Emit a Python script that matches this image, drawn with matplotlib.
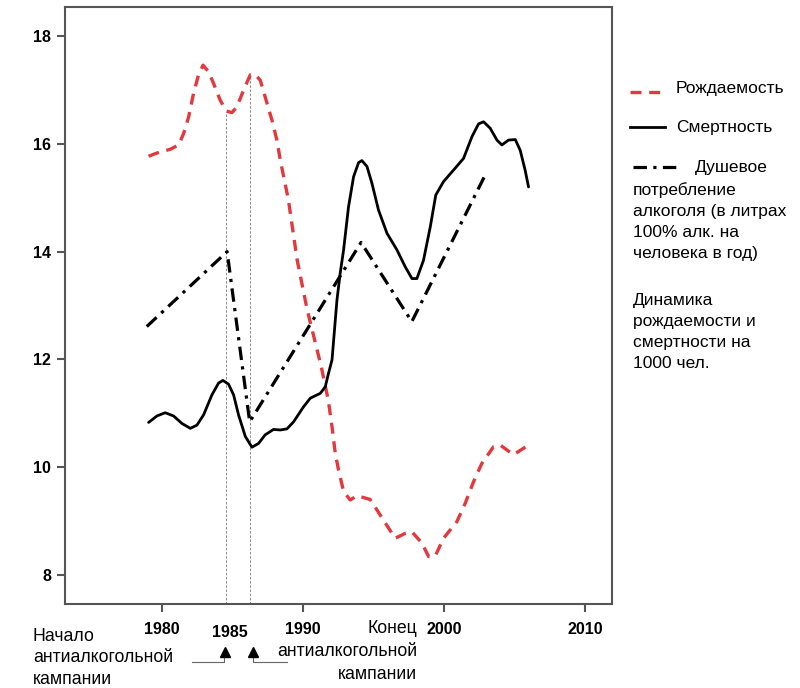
import matplotlib.pyplot as plt
from matplotlib.lines import Line2D

# Рождаемость (на 1000 чел.)
birth_years = [1979.03, 1979.62, 1980.57, 1981.16, 1981.51, 1981.87, 1982.22, 1982.57, 1982.89, 1983.28,
               1983.64, 1984.11, 1984.54, 1984.94, 1985.30, 1985.77, 1986.24, 1986.60, 1986.95, 1987.30,
               1987.78, 1988.13, 1988.37, 1988.94, 1989.57, 1990.28, 1991.28, 1991.77, 1992.04, 1992.27,
               1992.50, 1992.86, 1993.33, 1993.81, 1994.75, 1995.46, 1996.52, 1997.23, 1997.71, 1998.42,
               1998.89, 1999.36, 1999.95, 2000.90, 2001.49, 2002.08, 2002.67, 2003.50, 2003.97, 2004.91,
               2005.98]
birth_rate = [15.77, 15.83, 15.90, 15.98, 16.19, 16.50, 16.94, 17.28, 17.46, 17.34,
              17.12, 16.81, 16.61, 16.58, 16.69, 17.00, 17.28, 17.29, 17.18, 16.87,
              16.44, 16.07, 15.70, 14.97, 13.84, 12.92, 11.86, 11.25, 10.75, 10.26,
              9.95, 9.55, 9.39, 9.47, 9.40, 9.11, 8.68, 8.77, 8.80, 8.59,
              8.34, 8.35, 8.68, 8.99, 9.33, 9.73, 10.07, 10.38, 10.41, 10.23,
              10.41]

# Смертность (на 1000 чел.)
death_years = [1979.03, 1979.62, 1980.21, 1980.80, 1981.40, 1981.99, 1982.46, 1982.93, 1983.52, 1983.99,
               1984.30, 1984.70, 1985.06, 1985.41, 1985.89, 1986.36, 1986.83, 1987.30, 1987.89, 1988.37,
               1988.84, 1989.31, 1990.02, 1990.50, 1991.21, 1991.56, 1991.79, 1992.04, 1992.39, 1992.62,
               1992.86, 1993.21, 1993.57, 1993.92, 1994.16, 1994.52, 1994.87, 1995.34, 1995.94, 1996.65,
               1997.23, 1997.71, 1998.06, 1998.53, 1999.01, 1999.40, 1999.95, 2000.78, 2001.37, 2001.96,
               2002.43, 2002.79, 2003.26, 2003.74, 2004.09, 2004.56, 2005.04, 2005.39, 2005.74, 2005.98]
death_rate = [10.83, 10.95, 11.01, 10.95, 10.81, 10.72, 10.78, 10.97, 11.34, 11.56,
              11.61, 11.54, 11.34, 10.97, 10.57, 10.37, 10.44, 10.60, 10.70, 10.69,
              10.71, 10.84, 11.12, 11.28, 11.37, 11.49, 11.74, 11.99, 13.10, 13.60,
              14.03, 14.83, 15.39, 15.65, 15.69, 15.58, 15.27, 14.77, 14.34, 14.03,
              13.72, 13.50, 13.50, 13.84, 14.46, 15.05, 15.30, 15.55, 15.73, 16.13,
              16.37, 16.41, 16.29, 16.07, 15.98, 16.07, 16.08, 15.88, 15.51, 15.20]

# Душевое потребление алкоголя (литры)
alcohol_years = [1978.9, 1984.6, 1986.2, 1994.1, 1997.7, 2003.0]
alcohol = [12.61, 14.0, 10.84, 14.17, 12.7, 15.47]

campaign_lines = [(1984.55, 16.59), (1986.2, 17.28)]

red = '#e2393f'
font = 'Liberation Sans'

fig = plt.figure(figsize=(8, 6.88), dpi=100)
ax = fig.add_axes([0.08125, 0.1221, 0.68375, 0.8677])

for x, top in campaign_lines:
    ax.vlines(x, 7.0, top, colors='#777777', linestyles=(0, (3, 2)), linewidth=0.6, zorder=1)

ax.plot(birth_years, birth_rate, color=red, linewidth=2.4, dashes=(3.3, 2.3), zorder=3)
ax.plot(death_years, death_rate, color='black', linewidth=2.0, solid_joinstyle='round',
        solid_capstyle='round', zorder=3)
ax.plot(alcohol_years, alcohol, color='black', linewidth=2.3, dashes=(4.2, 2.0, 1.0, 2.0), zorder=3)

ax.set_xlim(1973.1, 2011.9)
ax.set_ylim(7.46, 18.54)
ax.set_xticks([1980, 1990, 2000, 2010])
ax.set_yticks([8, 10, 12, 14, 16, 18])
for s in ax.spines.values():
    s.set_color('#555555')
    s.set_linewidth(1.5)
ax.tick_params(axis='both', direction='out', length=6, width=1.5, color='#555555')
ax.tick_params(axis='x', pad=7)
ax.tick_params(axis='y', pad=4)
for lbl in ax.get_xticklabels() + ax.get_yticklabels():
    lbl.set_fontfamily(font)
    lbl.set_fontweight('bold')
    lbl.set_fontsize(11.5)
ax.text(1984.8, -0.035, '1985', transform=ax.get_xaxis_transform(), ha='center', va='top',
        fontfamily=font, fontweight='bold', fontsize=11.5)


# legend drawn by hand on the right, positions in pixels of the 800x688 picture
def fx(px):
    return px / 800


def fy(py):
    return 1 - py / 688


fig.add_artist(Line2D([fx(630), fx(664)], [fy(92), fy(92)], color=red, linewidth=2.4, dashes=(3.3, 2.3)))
fig.add_artist(Line2D([fx(630), fx(665)], [fy(127), fy(127)], color='black', linewidth=2.0))
fig.add_artist(Line2D([fx(633), fx(678)], [fy(167), fy(167)], color='black', linewidth=2.3,
                      dashes=(4.2, 2.0, 1.0, 2.0)))
leg = dict(fontfamily=font, fontsize=12.5, va='baseline')
fig.text(fx(676), fy(93), 'Рождаемость', **leg)
fig.text(fx(676), fy(132), 'Смертность', **leg)
fig.text(fx(695), fy(172), 'Душевое', **leg)
for i, line in enumerate(['потребление', 'алкоголя (в литрах', '100% алк. на', 'человека в год)']):
    fig.text(fx(633), fy(195 + 21 * i), line, **leg)
for i, line in enumerate(['Динамика', 'рождаемости и', 'смертности на', '1000 чел.']):
    fig.text(fx(633), fy(305 + 21 * i), line, **leg)

# подписи под осью
bottom = dict(fontfamily=font, fontsize=12.7, va='baseline')
for i, line in enumerate(['Начало', 'антиалкогольной', 'кампании']):
    fig.text(fx(33), fy(641 + 21.5 * i), line, **bottom)
for i, line in enumerate(['Конец', 'антиалкогольной', 'кампании']):
    fig.text(fx(417), fy(633 + 23 * i), line, ha='right', **bottom)

fig.add_artist(Line2D([fx(192), fx(224), fx(224)], [fy(662), fy(662), fy(656)], color='#666666', linewidth=0.8))
fig.add_artist(Line2D([fx(253), fx(253), fx(287)], [fy(656), fy(662), fy(662)], color='#666666', linewidth=0.8))
fig.add_artist(Line2D([fx(225)], [fy(652)], marker='^', markersize=7, color='black', linestyle='none'))
fig.add_artist(Line2D([fx(253)], [fy(652)], marker='^', markersize=7, color='black', linestyle='none'))

plt.savefig('out.png', dpi=100)
plt.close()
